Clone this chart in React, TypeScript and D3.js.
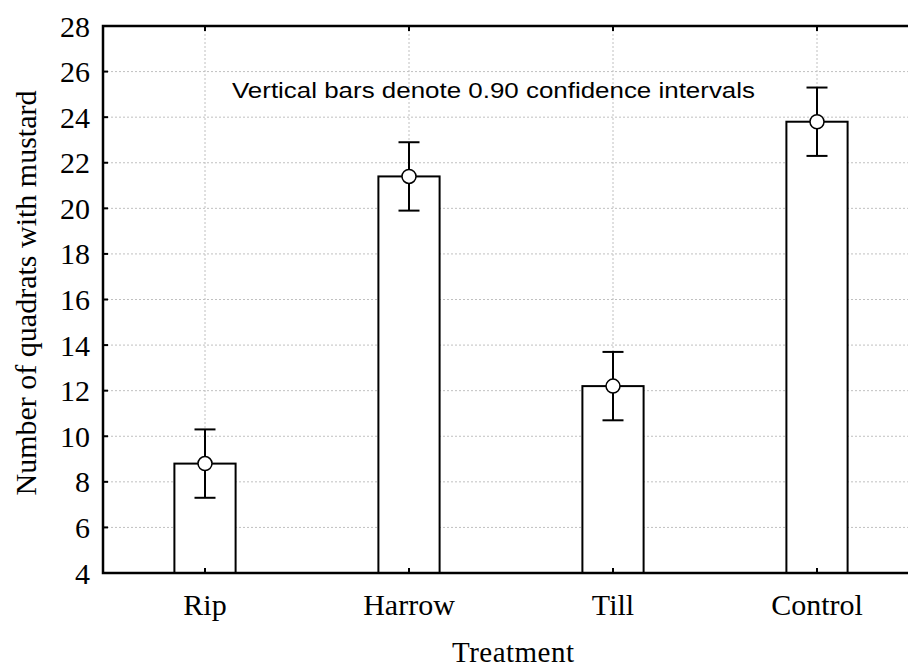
import React from 'react';
import * as d3 from 'd3';

const categories = ['Rip', 'Harrow', 'Till', 'Control'];
const means = [8.8, 21.4, 12.2, 23.8];
const lower = [7.3, 19.9, 10.7, 22.3];
const upper = [10.3, 22.9, 13.7, 25.3];
const yTicks = [4, 6, 8, 10, 12, 14, 16, 18, 20, 22, 24, 26, 28];

const W = 908;
const H = 668;
const margin = { top: 26, right: -11, bottom: 95, left: 103 };

const App: React.FC = () => {
  const x = d3.scaleBand<string>()
    .domain(categories)
    .range([margin.left, W - margin.right]);
  const y = d3.scaleLinear()
    .domain([4, 28])
    .range([H - margin.bottom, margin.top]);

  const x0 = margin.left;
  const x1 = W - margin.right;
  const yTop = margin.top;
  const yBot = H - margin.bottom;
  const barW = x.bandwidth() * 0.3;
  const capW = 21;
  const serif = '"Liberation Serif", "Times New Roman", serif';

  return (
    <svg width={W} height={H} style={{ position: 'absolute', left: 0, top: 0, background: '#fff' }}>
      <rect x={0} y={0} width={W} height={H} fill="#fff" />
      {/* grid */}
      {yTicks.slice(1, -1).map(t => (
        <line key={'gy' + t} x1={x0} x2={x1} y1={y(t)} y2={y(t)}
          stroke="#c0c0c0" strokeWidth={1} strokeDasharray="2,2" />
      ))}
      {categories.map(c => {
        const cx = (x(c) || 0) + x.bandwidth() / 2;
        return (
          <line key={'gx' + c} x1={cx} x2={cx} y1={yTop} y2={yBot}
            stroke="#c0c0c0" strokeWidth={1} strokeDasharray="2,2" />
        );
      })}

      {/* bars */}
      {categories.map((c, i) => {
        const cx = (x(c) || 0) + x.bandwidth() / 2;
        return (
          <rect key={'b' + c} x={cx - barW / 2} y={y(means[i])} width={barW}
            height={yBot - y(means[i])} fill="#fff" stroke="#000" strokeWidth={2} />
        );
      })}

      {/* error bars */}
      {categories.map((c, i) => {
        const cx = (x(c) || 0) + x.bandwidth() / 2;
        return (
          <g key={'e' + c} stroke="#000" strokeWidth={2}>
            <line x1={cx} x2={cx} y1={y(upper[i])} y2={y(lower[i])} />
            <line x1={cx - capW / 2} x2={cx + capW / 2} y1={y(upper[i])} y2={y(upper[i])} />
            <line x1={cx - capW / 2} x2={cx + capW / 2} y1={y(lower[i])} y2={y(lower[i])} />
            <circle cx={cx} cy={y(means[i])} r={7} fill="#fff" strokeWidth={1.5} />
          </g>
        );
      })}

      {/* frame */}
      <rect x={x0} y={yTop} width={x1 - x0} height={yBot - yTop} fill="none" stroke="#000" strokeWidth={2.5} />

      {/* y ticks */}
      {yTicks.map(t => (
        <g key={'yt' + t}>
          <line x1={x0} x2={x0 + 5} y1={y(t)} y2={y(t)} stroke="#000" strokeWidth={2} />
          <text x={90} y={y(t)} dy="0.35em" textAnchor="end" fontFamily={serif} fontSize={30}>
            {t}
          </text>
        </g>
      ))}

      {/* x ticks */}
      {categories.map(c => {
        const cx = (x(c) || 0) + x.bandwidth() / 2;
        return (
          <g key={'xt' + c}>
            <line x1={cx} x2={cx} y1={yBot} y2={yBot - 5} stroke="#000" strokeWidth={2} />
            <line x1={cx} x2={cx} y1={yTop} y2={yTop + 5} stroke="#000" strokeWidth={2} />
            <text x={cx} y={615} textAnchor="middle" fontFamily={serif} fontSize={30}>{c}</text>
          </g>
        );
      })}

      <text x={232} y={98} fontFamily='"Liberation Sans", Arial, sans-serif' fontSize={22}
        textLength={523} lengthAdjust="spacingAndGlyphs">
        Vertical bars denote 0.90 confidence intervals
      </text>

      <text x={513} y={662} textAnchor="middle" fontFamily={serif} fontSize={29}
        textLength={122} lengthAdjust="spacing">Treatment</text>

      <text transform="translate(36,293) rotate(-90)" textAnchor="middle" fontFamily={serif} fontSize={30}>
        Number of quadrats with mustard
      </text>
    </svg>
  );
};

export default App;
